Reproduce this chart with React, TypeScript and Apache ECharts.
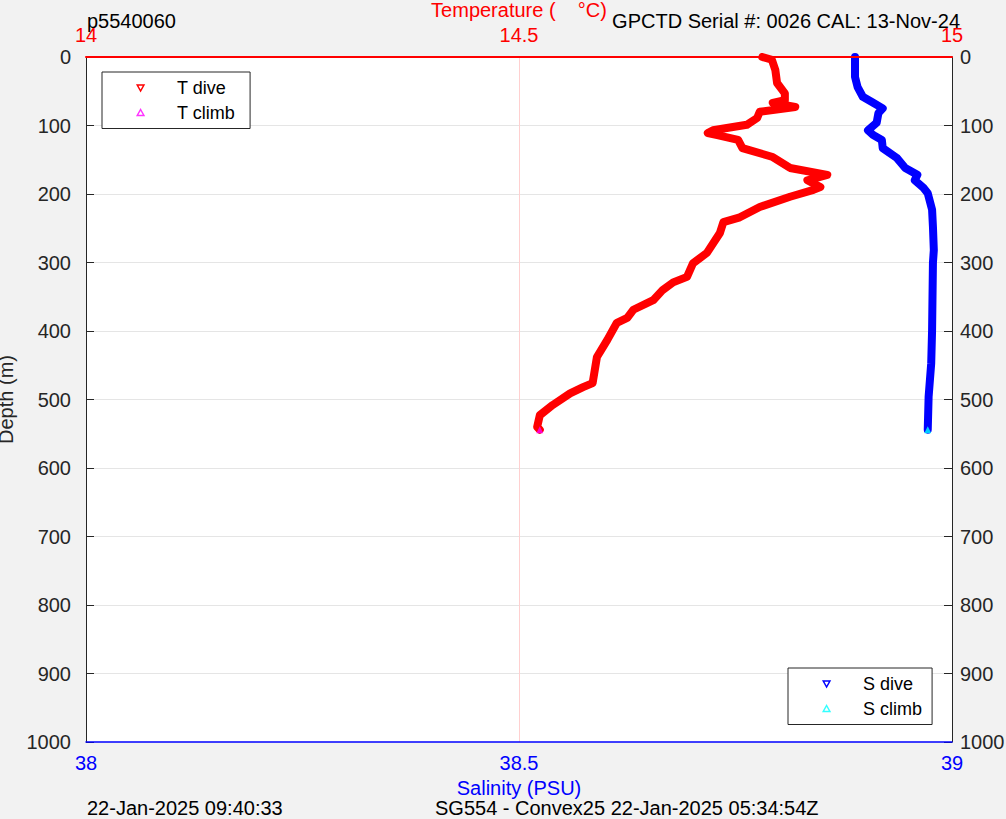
import React, { useEffect, useRef } from "react";
import * as echarts from "echarts";

// Temperature dive profile (°C vs depth m)
const tDiveTemp = [14.781, 14.792, 14.796, 14.798, 14.807, 14.807, 14.793, 14.819, 14.778, 14.775, 14.763, 14.724, 14.718, 14.729, 14.753, 14.758, 14.793, 14.813, 14.856, 14.833, 14.848, 14.840, 14.813, 14.778, 14.755, 14.736, 14.732, 14.717, 14.701, 14.694, 14.678, 14.666, 14.655, 14.632, 14.625, 14.613, 14.602, 14.590, 14.585, 14.574, 14.559, 14.539, 14.524, 14.521, 14.524];
const tDiveDepth = [0, 4, 19, 38, 53, 63, 67, 73, 80, 89, 99, 107, 111, 114, 121, 133, 146, 162, 172, 180, 190, 194, 204, 219, 234, 241, 257, 286, 301, 321, 329, 340, 355, 369, 381, 388, 413, 438, 476, 482, 491, 508, 523, 540, 544];
const tClimbTemp = [14.524];
const tClimbDepth = [544];

// Salinity dive profile (PSU vs depth m)
const sDiveSal = [38.888, 38.888, 38.891, 38.897, 38.908, 38.920, 38.915, 38.913, 38.903, 38.909, 38.919, 38.920, 38.936, 38.946, 38.960, 38.957, 38.967, 38.972, 38.977, 38.978, 38.979, 38.978, 38.977, 38.976, 38.973, 38.972];
const sDiveDepth = [0, 29, 44, 58, 66, 75, 82, 96, 107, 114, 121, 133, 147, 162, 172, 180, 191, 199, 223, 248, 282, 300, 399, 447, 496, 544];
const sClimbSal = [38.972];
const sClimbDepth = [544];

const tempTicks = { min: 14, max: 15, interval: 0.5 };
const salTicks = { min: 38, max: 39, interval: 0.5 };
const depthTicks = { min: 0, max: 1000, interval: 100 };

const FONT = "'Liberation Sans', Arial, Helvetica, sans-serif";
const AX = "#262626";

const pair = (xs: number[], ys: number[]) => xs.map((x, i) => [x, ys[i]]);
const plain = (v: number) => String(v);

export default function App() {
  const ref = useRef<HTMLDivElement>(null);
  useEffect(() => {
    if (!ref.current) return;
    const chart = echarts.init(ref.current, null, { renderer: "svg" });
    const legendCommon = {
      orient: "vertical",
      backgroundColor: "#ffffff",
      borderColor: AX,
      borderWidth: 1,
      borderRadius: 0,
      itemWidth: 7,
      itemHeight: 6,
      itemGap: 6.5,
      padding: [7, 15, 7, 34.5],
      textStyle: { fontFamily: FONT, fontSize: 18, color: "#000", lineHeight: 18, padding: [0, 0, 0, 28] },
      selectedMode: false,
    };
    chart.setOption({
      animation: false,
      backgroundColor: "#f2f2f2",
      textStyle: { fontFamily: FONT },
      grid: { left: 86, right: 54, top: 57, bottom: 77, show: true, backgroundColor: "#ffffff", borderWidth: 0, containLabel: false, outerBoundsMode: "none" },
      xAxis: [
        {
          type: "value", position: "bottom", ...salTicks, z: 10,
          axisLine: { show: true, onZero: false, lineStyle: { color: "#0000ff", width: 1.5 } },
          axisTick: { show: false },
          axisLabel: { color: "#0000ff", fontSize: 20, fontFamily: FONT, margin: 11, showMinLabel: true, showMaxLabel: true, formatter: plain },
          splitLine: { show: false },
          name: "Salinity (PSU)", nameLocation: "middle", nameGap: 35,
          nameTextStyle: { color: "#0000ff", fontSize: 20, fontFamily: FONT },
        },
        {
          type: "value", position: "top", ...tempTicks, z: 10,
          axisLine: { show: true, onZero: false, lineStyle: { color: "#ff0000", width: 2 } },
          axisTick: { show: false },
          axisLabel: { color: "#ff0000", fontSize: 20, fontFamily: FONT, margin: 12, showMinLabel: true, showMaxLabel: true, formatter: plain },
          splitLine: { show: true, showMinLine: false, showMaxLine: false, lineStyle: { color: "#ffd0d0", width: 1 } },
          name: "Temperature (    °C)", nameLocation: "middle", nameGap: 37,
          nameTextStyle: { color: "#ff0000", fontSize: 20, fontFamily: FONT },
        },
      ],
      yAxis: [
        {
          type: "value", inverse: true, position: "left", ...depthTicks,
          axisLine: { show: true, onZero: false, lineStyle: { color: AX, width: 1 } },
          axisTick: { show: true, inside: true, length: 8, lineStyle: { color: AX } },
          axisLabel: { color: AX, fontSize: 20, fontFamily: FONT, margin: 15, formatter: plain },
          splitLine: { show: true, showMinLine: false, showMaxLine: false, lineStyle: { color: "#e5e5e5", width: 1 } },
          name: "Depth (m)", nameLocation: "middle", nameGap: 58, nameRotate: 90,
          nameTextStyle: { color: AX, fontSize: 20, fontFamily: FONT },
        },
        {
          type: "value", inverse: true, position: "right", ...depthTicks,
          axisLine: { show: true, onZero: false, lineStyle: { color: AX, width: 1 } },
          axisTick: { show: true, inside: true, length: 8, lineStyle: { color: AX } },
          axisLabel: { color: AX, fontSize: 20, fontFamily: FONT, margin: 8, formatter: plain },
          splitLine: { show: false },
        },
      ],
      legend: [
        {
          ...legendCommon, left: 102, top: 72,
          data: [
            { name: "T dive", icon: "path://M0,0L10,0L5,9Z", itemStyle: { color: "#ffffff", borderColor: "#ff0000", borderWidth: 1.5 } },
            { name: "T climb", icon: "path://M5,0L10,9L0,9Z", itemStyle: { color: "#ffffff", borderColor: "#ff00ff", borderWidth: 1.5 } },
          ],
        },
        {
          ...legendCommon, left: 788, top: 668, padding: [7, 10, 7, 34.5],
          data: [
            { name: "S dive", icon: "path://M0,0L10,0L5,9Z", itemStyle: { color: "#ffffff", borderColor: "#0000ff", borderWidth: 1.5 } },
            { name: "S climb", icon: "path://M5,0L10,9L0,9Z", itemStyle: { color: "#ffffff", borderColor: "#00ffff", borderWidth: 1.5 } },
          ],
        },
      ],
      series: [
        {
          name: "T dive", type: "line", xAxisIndex: 1, yAxisIndex: 0,
          data: pair(tDiveTemp, tDiveDepth), showSymbol: false, symbol: "none",
          lineStyle: { color: "#ff0000", width: 8, cap: "round", join: "round" },
          itemStyle: { color: "#ff0000" }, emphasis: { disabled: true },
        },
        {
          name: "S dive", type: "line", xAxisIndex: 0, yAxisIndex: 0,
          data: pair(sDiveSal, sDiveDepth), showSymbol: false, symbol: "none",
          lineStyle: { color: "#0000ff", width: 8, cap: "round", join: "round" },
          itemStyle: { color: "#0000ff" }, emphasis: { disabled: true },
        },
        {
          name: "T climb", type: "scatter", xAxisIndex: 1, yAxisIndex: 0, z: 5,
          data: pair(tClimbTemp, tClimbDepth), symbol: "triangle", symbolSize: 7,
          itemStyle: { color: "#ff00ff" },
        },
        {
          name: "S climb", type: "scatter", xAxisIndex: 0, yAxisIndex: 0, z: 5,
          data: pair(sClimbSal, sClimbDepth), symbol: "triangle", symbolSize: 7,
          itemStyle: { color: "#00ffff" },
        },
      ],
      graphic: [
        { type: "text", left: 87, top: 11, style: { text: "p5540060", fontSize: 20, lineHeight: 20, fontFamily: FONT, fill: "#000" } },
        { type: "text", right: 46, top: 11, style: { text: "GPCTD Serial #: 0026 CAL: 13-Nov-24", fontSize: 20, lineHeight: 20, fontFamily: FONT, fill: "#000" } },
        { type: "text", left: 87, top: 798, style: { text: "22-Jan-2025 09:40:33", fontSize: 20, lineHeight: 20, fontFamily: FONT, fill: "#000" } },
        { type: "text", left: 435, top: 798, style: { text: "SG554 - Convex25 22-Jan-2025 05:34:54Z", fontSize: 20, lineHeight: 20, fontFamily: FONT, fill: "#000" } },
      ],
    });
    return () => chart.dispose();
  }, []);
  return <div ref={ref} style={{ position: "fixed", left: 0, top: 0, width: 1006, height: 819 }} />;
}
